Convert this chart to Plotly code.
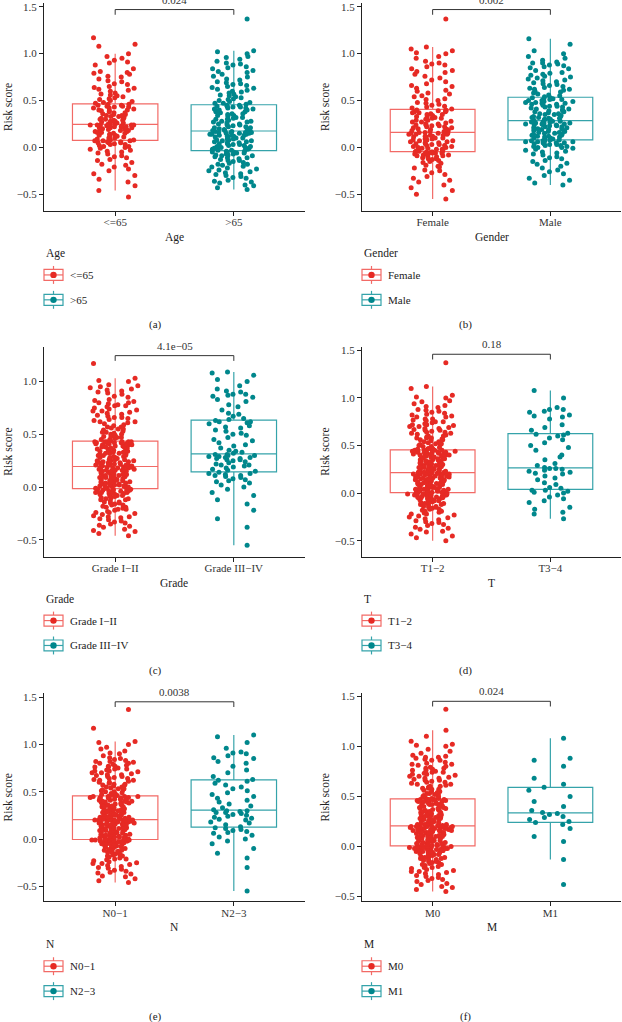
import math
import plotly.graph_objects as go

W, H = 622, 1022

variables = ["Age", "Gender", "Grade", "T", "N", "M"]
group_labels = [["<=65", ">65"], ["Female", "Male"], ["Grade I−II", "Grade III−IV"],
                ["T1−2", "T3−4"], ["N0−1", "N2−3"], ["M0", "M1"]]
p_values = ["0.024", "0.002", "4.1e−05", "0.18", "0.0038", "0.024"]
bracket_y = [1.47, 1.47, 1.245, 1.46, 1.45, 1.45]
captions = ["(a)", "(b)", "(c)", "(d)", "(e)", "(f)"]

# risk scores, one list per group
age_le65 = [
    -.53, -.46, -.41, -.37, -.34, -.30, -.28, -.25, -.23, -.21, -.19, -.18, -.16, -.14, -.13, -.11, -.10, -.09, -.07, -.06,
    -.05, -.04, -.03, -.02, -.01, 0, .01, .01, .02, .03, .03, .04, .05, .05, .05, .06, .06, .07, .07, .07,
    .08, .08, .09, .10, .10, .11, .12, .12, .13, .13, .14, .15, .15, .16, .16, .17, .17, .18, .18, .19,
    .19, .19, .20, .20, .21, .21, .21, .22, .22, .22, .23, .23, .23, .23, .24, .24, .24, .24, .24, .24,
    .25, .25, .26, .26, .27, .27, .28, .28, .29, .29, .30, .30, .31, .31, .32, .33, .33, .34, .34, .35,
    .35, .36, .37, .37, .38, .39, .39, .40, .40, .41, .42, .42, .43, .43, .44, .44, .45, .45, .46, .46,
    .47, .48, .49, .50, .51, .52, .53, .54, .55, .56, .57, .58, .60, .61, .62, .64, .65, .67, .68, .70,
    .71, .73, .75, .76, .78, .79, .80, .81, .84, .88, .90, .91, .93, .95, .97, 1.0, 1.08, 1.10, 1.17, .63]
age_gt65 = [
    -.45, -.43, -.41, -.40, -.38, -.37, -.36, -.35, -.33, -.32, -.31, -.30, -.29, -.28, -.27, -.26, -.25, -.24, -.23, -.22,
    -.21, -.20, -.19, -.18, -.18, -.17, -.16, -.15, -.14, -.14, -.13, -.12, -.11, -.11, -.10, -.09, -.09, -.08, -.08, -.07,
    -.07, -.06, -.06, -.05, -.05, -.05, -.04, -.04,
    -.03, -.03, -.02, -.02, -.01, -.01, 0, 0, .01, .01, .02, .02, .03, .03, .04, .04, .05, .05, .06, .06,
    .07, .07, .08, .08, .09, .09, .10, .10, .11, .11, .12, .12, .13, .13, .13, .14, .14, .14, .15, .15,
    .15, .16, .16, .16, .16, .17, .17, .17,
    .18, .18, .19, .19, .20, .20, .21, .21, .22, .22, .23, .24, .24, .25, .25, .26, .27, .27, .28, .28,
    .29, .30, .30, .31, .32, .32, .33, .34, .34, .35, .36, .36, .37, .38, .38, .39, .40, .40, .41, .41,
    .42, .42, .43, .43, .44, .44, .45, .45,
    .46, .47, .47, .48, .49, .50, .51, .52, .53, .54, .55, .56, .57, .58, .59, .60, .61, .62, .63, .64,
    .65, .66, .67, .68, .69, .70, .72, .73, .75, .76, .78, .80, .81, .82, .84, .85, .86, .88, .89, .90,
    .92, .94, .96, .97, 1.0, 1.02, 1.03, 1.37]
female = [
    -.55, -.50, -.46, -.43, -.40, -.37, -.35, -.33, -.31, -.29, -.27, -.25, -.24, -.22, -.21, -.20, -.19, -.17, -.16, -.15,
    -.14, -.13, -.12, -.12, -.11, -.10, -.10, -.09, -.09, -.08, -.08, -.07, -.07, -.07, -.06, -.06, -.06, -.06, -.05, -.05,
    -.05, -.05, -.05,
    -.04, -.04, -.03, -.03, -.02, -.02, -.01, -.01, 0, 0, .01, .01, .02, .02, .03, .03, .04, .04, .05, .05,
    .06, .06, .07, .07, .08, .08, .09, .09, .10, .10, .11, .11, .12, .12, .13, .13, .14, .14, .14, .15,
    .15, .15, .16,
    .16, .17, .17, .18, .18, .19, .19, .20, .20, .21, .21, .22, .22, .23, .23, .24, .24, .25, .25, .26,
    .27, .27, .28, .29, .29, .30, .31, .31, .32, .33, .33, .34, .35, .35, .36, .37, .37, .38, .38, .39,
    .39, .40, .40,
    .41, .42, .43, .44, .45, .46, .47, .48, .50, .51, .52, .54, .55, .57, .58, .60, .61, .63, .65, .66,
    .68, .70, .72, .74, .76, .78, .80, .81, .82, .84, .86, .88, .89, .90, .92, .95, .97, 1.0, 1.01, 1.03,
    1.05, 1.07, 1.37]
male = [
    -.40, -.38, -.35, -.33, -.30, -.28, -.26, -.24, -.22, -.20, -.18, -.17, -.15, -.14, -.12, -.11, -.10, -.08, -.07, -.06,
    -.05, -.04, -.03, -.02, -.01, 0, 0, .01, .01, .02, .02, .03, .03, .04, .04, .05, .05, .05, .06, .06,
    .06, .07, .07, .07, .08,
    .08, .09, .09, .10, .10, .11, .11, .12, .12, .13, .13, .14, .14, .15, .15, .16, .16, .17, .17, .18,
    .18, .19, .19, .20, .20, .21, .21, .22, .22, .23, .23, .24, .24, .24, .25, .25, .25, .26, .26, .26,
    .27, .27, .27, .28, .28,
    .29, .29, .30, .30, .31, .31, .32, .32, .33, .33, .34, .35, .35, .36, .36, .37, .38, .38, .39, .39,
    .40, .41, .41, .42, .43, .43, .44, .44, .45, .46, .46, .47, .47, .48, .48, .49, .49, .50, .50, .51,
    .51, .52, .52, .53, .53,
    .54, .55, .56, .57, .58, .59, .60, .61, .62, .63, .64, .65, .66, .67, .68, .69, .70, .71, .72, .73,
    .74, .75, .76, .77, .78, .79, .80, .82, .84, .85, .86, .87, .88, .89, .90, .90, .91, .93, .95, .97,
    1.0, 1.03, 1.10, 1.16, .62]
grade_1_2 = [
    -.46, -.44, -.42, -.41, -.40, -.38, -.37, -.36, -.35, -.34, -.33, -.32, -.31, -.30, -.29, -.28, -.28, -.27, -.26, -.25,
    -.24, -.24, -.23, -.22, -.21, -.21, -.20, -.19, -.19, -.18, -.17, -.17, -.16, -.15, -.15, -.14, -.14, -.13, -.12, -.12,
    -.11, -.11, -.10, -.10, -.09, -.09, -.08, -.08, -.07, -.07, -.07, -.06, -.06, -.06, -.05, -.05, -.05, -.04, -.04, -.04,
    -.04, -.03, -.03, -.03, -.03, -.02, -.02, -.02,
    -.01, -.01, -.01, 0, 0, 0, .01, .01, .01, .02, .02, .02, .03, .03, .03, .04, .04, .04, .05, .05,
    .05, .06, .06, .06, .07, .07, .07, .08, .08, .08, .09, .09, .09, .10, .10, .10, .11, .11, .11, .12,
    .12, .12, .13, .13, .13, .14, .14, .14, .15, .15, .15, .16, .16, .16, .16, .17, .17, .17, .17, .18,
    .18, .18, .18, .19, .19, .19, .19, .19,
    .20, .20, .20, .21, .21, .21, .22, .22, .22, .23, .23, .23, .24, .24, .24, .25, .25, .25, .26, .26,
    .26, .27, .27, .28, .28, .28, .29, .29, .30, .30, .30, .31, .31, .32, .32, .32, .33, .33, .34, .34,
    .35, .35, .35, .36, .36, .37, .37, .38, .38, .38, .39, .39, .40, .40, .40, .41, .41, .41, .42, .42,
    .42, .42, .43, .43, .43, .43, .43, .43,
    .44, .45, .45, .46, .47, .47, .48, .49, .50, .50, .51, .52, .53, .54, .55, .55, .56, .57, .58, .59,
    .60, .61, .62, .63, .64, .65, .66, .67, .68, .69, .70, .71, .72, .73, .74, .75, .76, .77, .78, .79,
    .80, .80, .81, .82, .83, .85, .86, .88, .89, .90, .91, .92, .93, .94, .95, .96, .97, 1.0, 1.01, 1.03,
    .57, .62, .66, .72, .77, .52, 1.17, .48]
grade_3_4 = [
    -.55, -.38, -.30, -.22, -.16, -.12, -.08, -.05, -.02, 0, .02, .04, .05, .06, .07, .08, .09, .10, .11, .11,
    .12, .13, .13, .14,
    .15, .16, .17, .18, .19, .20, .21, .21, .22, .23, .24, .25, .26, .26, .27, .27, .28, .28, .29, .29,
    .30, .30, .31, .31,
    .32, .33, .34, .35, .37, .39, .40, .42, .44, .45, .47, .49, .50, .51, .53, .54, .56, .57, .58, .60,
    .61, .62, .62, .63,
    .64, .65, .67, .69, .70, .73, .76, .78, .81, .83, .85, .86, .87, .88, .88, .90, .91, .93, .96, 1.0,
    1.02, 1.06, 1.08, 1.09]
t_1_2 = [
    -.50, -.47, -.45, -.43, -.41, -.40, -.38, -.37, -.36, -.34, -.33, -.32, -.31, -.30, -.29, -.28, -.27, -.26, -.25, -.24,
    -.23, -.22, -.22, -.21, -.20, -.19, -.19, -.18, -.17, -.17, -.16, -.15, -.15, -.14, -.14, -.13, -.12, -.12, -.11, -.11,
    -.10, -.10, -.09, -.09, -.08, -.08, -.07, -.07, -.07, -.06, -.06, -.06, -.05, -.05, -.05, -.04, -.04, -.04, -.03, -.03,
    -.03, -.03, -.02, -.02, -.02, -.02, -.01, -.01, -.01, -.01, 0, 0, 0,
    .01, .01, .01, .01, .02, .02, .02, .03, .03, .03, .04, .04, .04, .05, .05, .05, .06, .06, .06, .07,
    .07, .07, .08, .08, .08, .09, .09, .09, .10, .10, .10, .11, .11, .11, .12, .12, .12, .13, .13, .13,
    .14, .14, .14, .15, .15, .15, .16, .16, .16, .17, .17, .17, .17, .18, .18, .18, .18, .19, .19, .19,
    .19, .20, .20, .20, .20, .20, .21, .21, .21, .21, .21, .21, .21,
    .22, .22, .22, .23, .23, .23, .24, .24, .24, .25, .25, .25, .26, .26, .26, .27, .27, .27, .28, .28,
    .28, .29, .29, .29, .30, .30, .30, .31, .31, .31, .32, .32, .32, .33, .33, .33, .34, .34, .35, .35,
    .35, .36, .36, .37, .37, .37, .38, .38, .39, .39, .39, .40, .40, .40, .41, .41, .41, .42, .42, .42,
    .43, .43, .43, .43, .44, .44, .44, .44, .45, .45, .45, .45, .45,
    .46, .46, .47, .47, .48, .49, .49, .50, .51, .51, .52, .53, .54, .54, .55, .56, .57, .58, .58, .59,
    .60, .61, .62, .63, .64, .65, .66, .67, .68, .69, .70, .71, .72, .73, .74, .75, .76, .77, .78, .80,
    .81, .82, .84, .85, .87, .88, .90, .91, .92, .94, .96, .97, 1.0, 1.01, 1.03, 1.10, 1.12, 1.37, .52, .56,
    .60, .63, .66, .68, .70, .72, .75, .78, .80, .83, .86, .64, .58]
t_3_4 = [
    -.27, -.22, -.20, -.17, -.15, -.10, -.08, -.06, -.04, -.02, 0, .01, .02, .03, .03,
    .05, .06, .09, .11, .14, .16, .18, .20, .21, .22, .23, .24, .25, .26, .26,
    .27, .29, .31, .35, .38, .40, .45, .48, .50, .53, .56, .58, .60, .61, .62,
    .63, .66, .69, .72, .78, .80, .81, .82, .85, .86, .88, .88, .90, 1.0, 1.08]
n_0_1 = [
    -.46, -.44, -.42, -.40, -.39, -.37, -.36, -.35, -.34, -.33, -.32, -.31, -.30, -.29, -.28, -.27, -.26, -.26, -.25, -.24,
    -.23, -.22, -.21, -.21, -.20, -.19, -.18, -.18, -.17, -.16, -.16, -.15, -.14, -.14, -.13, -.13, -.12, -.12, -.11, -.10,
    -.10, -.09, -.09, -.08, -.08, -.07, -.07, -.07, -.06, -.06, -.06, -.05, -.05, -.05, -.04, -.04, -.04, -.03, -.03, -.03,
    -.03, -.02, -.02, -.02, -.02, -.01, -.01, -.01, -.01, -.01, -.01, -.01,
    0, 0, 0, .01, .01, .01, .02, .02, .02, .03, .03, .03, .04, .04, .04, .05, .05, .05, .06, .06,
    .06, .07, .07, .07, .08, .08, .08, .09, .09, .09, .10, .10, .10, .11, .11, .11, .12, .12, .12, .13,
    .13, .13, .14, .14, .14, .15, .15, .15, .16, .16, .16, .16, .17, .17, .17, .17, .18, .18, .18, .18,
    .19, .19, .19, .19, .19, .20, .20, .20, .20, .20, .20, .20,
    .21, .21, .21, .22, .22, .22, .23, .23, .23, .24, .24, .24, .25, .25, .25, .26, .26, .26, .27, .27,
    .27, .28, .28, .28, .29, .29, .30, .30, .30, .31, .31, .32, .32, .32, .33, .33, .34, .34, .34, .35,
    .35, .36, .36, .37, .37, .37, .38, .38, .39, .39, .39, .40, .40, .40, .41, .41, .42, .42, .42, .43,
    .43, .43, .44, .44, .44, .44, .45, .45, .45, .45, .45, .45,
    .46, .46, .47, .48, .48, .49, .50, .50, .51, .52, .53, .53, .54, .55, .56, .57, .57, .58, .59, .60,
    .61, .62, .63, .64, .65, .66, .67, .68, .69, .70, .71, .72, .73, .74, .75, .76, .77, .78, .79, .80,
    .81, .82, .83, .84, .86, .88, .90, .91, .93, .95, .97, 1.0, 1.02, 1.03, 1.17, 1.37, .55, .60, .64, .68,
    .70, .72, .74, .77, .80, .82, .85, .62, .58, .66, .76, .52]
n_2_3 = [
    -.55, -.30, -.20, -.15, -.10, -.05, -.02, 0, .02, .04, .06, .07, .08, .09, .10, .11, .12,
    .13, .15, .17, .18, .20, .21, .22, .23, .24, .25, .26, .27, .28, .28, .29, .30, .30,
    .31, .33, .35, .37, .39, .41, .43, .45, .47, .49, .51, .53, .55, .57, .59, .61, .62,
    .63, .66, .70, .73, .77, .80, .82, .85, .86, .88, .90, .91, .92, .96, 1.02, 1.08, 1.10]
m0 = [
    -.45, -.43, -.41, -.40, -.38, -.37, -.35, -.34, -.33, -.32, -.31, -.30, -.29, -.28, -.27, -.26, -.25, -.25, -.24, -.23,
    -.22, -.21, -.21, -.20, -.19, -.18, -.18, -.17, -.16, -.16, -.15, -.15, -.14, -.13, -.13, -.12, -.12, -.11, -.11, -.10,
    -.10, -.09, -.09, -.08, -.08, -.07, -.07, -.06, -.06, -.06, -.05, -.05, -.05, -.04, -.04, -.04, -.03, -.03, -.03, -.03,
    -.02, -.02, -.02, -.02, -.01, -.01, -.01, -.01, 0, 0, 0, 0, 0,
    .01, .01, .01, .02, .02, .02, .03, .03, .03, .04, .04, .04, .05, .05, .05, .06, .06, .06, .07, .07,
    .07, .08, .08, .08, .09, .09, .09, .10, .10, .10, .11, .11, .11, .12, .12, .12, .13, .13, .13, .14,
    .14, .14, .15, .15, .15, .15, .16, .16, .16, .16, .17, .17, .17, .17, .18, .18, .18, .18, .19, .19,
    .19, .19, .19, .20, .20, .20, .20, .20, .20, .20, .20, .20, .20,
    .21, .21, .21, .22, .22, .22, .23, .23, .23, .24, .24, .25, .25, .25, .26, .26, .27, .27, .27, .28,
    .28, .29, .29, .29, .30, .30, .31, .31, .31, .32, .32, .33, .33, .34, .34, .34, .35, .35, .36, .36,
    .37, .37, .38, .38, .38, .39, .39, .40, .40, .41, .41, .42, .42, .42, .43, .43, .44, .44, .44, .45,
    .45, .45, .46, .46, .46, .46, .47, .47, .47, .47, .47, .47, .47,
    .48, .48, .49, .50, .50, .51, .52, .53, .53, .54, .55, .56, .57, .58, .59, .60, .61, .62, .63, .64,
    .65, .66, .67, .68, .69, .70, .71, .72, .73, .74, .75, .76, .77, .78, .79, .80, .81, .82, .83, .84,
    .86, .87, .88, .89, .90, .91, .93, .95, .97, 1.0, 1.01, 1.02, 1.05, 1.10, 1.16, 1.37, .55, .58, .62, .66,
    .70, .74, .78, .82, .86, .89, .60, .64, .68, .72, .76, .52, .57]
m1 = [-.38, -.13, .05, .10, .18, .22, .24, .25, .27, .29, .30, .32, .33, .34, .36, .40, .45, .50, .56, .59,
      .62, .68, .80, .86, .88, 1.08]

risk_scores = [[age_le65, age_gt65], [female, male], [grade_1_2, grade_3_4],
               [t_1_2, t_3_4], [n_0_1, n_2_3], [m0, m1]]

# colours: points / box outlines
pt_colors = ["#E62A24", "#00878C"]
box_colors = ["#F26A66", "#35A3AA"]
FONT = "Liberation Serif"

# panel geometry in pixels
cols = [(44, 305), (362, 621)]
rows = [(0, 209), (345, 556), (693, 902)]
row_shift = [0, 347, 694]
yranges = [[-0.68, 1.54], [-0.68, 1.54], [-0.66, 1.33], [-0.67, 1.54], [-0.66, 1.54], [-0.55, 1.53]]
BOX_W = 0.72
JITTER = 0.6
SLAB = 0.2   # points are jittered slab by slab so the cloud keeps an even width


def px(x):
    return x / W


def py(y):
    return 1 - y / H


def label(x, y, text, size=11, anchor="center", **kw):
    return dict(x=px(x), y=py(y), xref="paper", yref="paper", xanchor=anchor, yanchor="middle",
                text=text, showarrow=False, font=dict(size=size), **kw)


fig = go.Figure()
annotations = []
shapes = []

for k in range(6):
    r, c = divmod(k, 2)
    x0, x1 = cols[c]
    top, bot = rows[r]
    sh = row_shift[r]
    sfx = "" if k == 0 else str(k + 1)
    xa, ya = "x" + sfx, "y" + sfx
    labels = group_labels[k]

    for g in range(2):
        vals = risk_scores[k][g]
        # box + whiskers (1.5 IQR), sample points hidden here
        fig.add_trace(go.Box(
            y=vals, name=labels[g], xaxis=xa, yaxis=ya,
            boxpoints="outliers", width=BOX_W, whiskerwidth=0,
            fillcolor="rgba(255,255,255,0)",
            line=dict(color=box_colors[g], width=1.2),
            marker=dict(opacity=0), hoverinfo="skip"))
        # jittered points
        slabs = {}
        for v in vals:
            slabs.setdefault(math.floor(v / SLAB), []).append(v)
        for key in sorted(slabs):
            fig.add_trace(go.Box(
                y=slabs[key], name=labels[g], xaxis=xa, yaxis=ya,
                boxpoints="all", jitter=JITTER, pointpos=0, width=BOX_W,
                fillcolor="rgba(0,0,0,0)", line=dict(width=0),
                marker=dict(color=pt_colors[g], size=5, line=dict(width=0)),
                hoveron="points", hoverinfo="y"))

    # significance bracket
    span = yranges[k][1] - yranges[k][0]
    b = bracket_y[k]
    tip = 0.025 * span
    fig.add_trace(go.Scatter(x=[labels[0], labels[0], labels[1], labels[1]],
                             y=[b - tip, b, b, b - tip], mode="lines",
                             line=dict(color="#333", width=1), xaxis=xa, yaxis=ya,
                             hoverinfo="skip"))
    annotations.append(dict(x=0.5, y=b, xref=xa, yref=ya, text=p_values[k], showarrow=False,
                            xanchor="center", yanchor="middle", yshift=10,
                            font=dict(size=11, color="#333")))

    axis_style = dict(showline=True, linecolor="#222", linewidth=1, ticks="outside",
                      ticklen=4, tickcolor="#222", showgrid=False, zeroline=False,
                      tickfont=dict(size=11, color="#333"))
    fig.update_layout(**{
        "xaxis" + sfx: dict(domain=[px(x0), px(x1)], anchor=ya, type="category",
                            categoryorder="array", categoryarray=labels, range=[-0.6, 1.6],
                            ticklabelstandoff=-3, **axis_style),
        "yaxis" + sfx: dict(domain=[py(bot), py(top)], anchor=xa, range=yranges[k],
                            tickvals=[-0.5, 0, 0.5, 1.0, 1.5], tickformat=".1f", **axis_style),
    })

    # axis titles
    annotations.append(label((x0 + x1) / 2, bot + 26, variables[k], size=11.5))
    annotations.append(label(8 + 317 * c, (top + bot) / 2, "Risk score", size=11.5, textangle=-90))

    # legend
    annotations.append(label(x0, 251 + sh, variables[k], size=11.5, anchor="left"))
    for g in range(2):
        cx, cy = x0 + 9.5, 273 + 25 * g + sh
        shapes.append(dict(type="line", xref="paper", yref="paper", x0=px(cx), x1=px(cx),
                           y0=py(cy - 9), y1=py(cy + 9), line=dict(color=box_colors[g], width=1.2)))
        shapes.append(dict(type="rect", xref="paper", yref="paper", x0=px(cx - 9.5), x1=px(cx + 9.5),
                           y0=py(cy - 5.5), y1=py(cy + 5.5), fillcolor="white",
                           line=dict(color=box_colors[g], width=1.2)))
        shapes.append(dict(type="line", xref="paper", yref="paper", x0=px(cx - 9.5), x1=px(cx + 9.5),
                           y0=py(cy), y1=py(cy), line=dict(color=box_colors[g], width=1.2)))
        shapes.append(dict(type="circle", xref="paper", yref="paper", x0=px(cx - 3.2), x1=px(cx + 3.2),
                           y0=py(cy - 3.2), y1=py(cy + 3.2), fillcolor=pt_colors[g], line=dict(width=0)))
        annotations.append(label(x0 + 24, cy, labels[g], size=11, anchor="left"))

    # panel caption
    annotations.append(label(155 + 311 * c, 323 + sh, captions[k], size=11))

fig.update_layout(width=W, height=H, margin=dict(l=0, r=0, t=0, b=0),
                  paper_bgcolor="white", plot_bgcolor="white", showlegend=False,
                  boxmode="overlay", font=dict(family=FONT, color="#222"),
                  annotations=annotations, shapes=shapes)

fig.write_html("out.html", config={"displayModeBar": False},
               post_script="document.body.style.margin = '0';")
